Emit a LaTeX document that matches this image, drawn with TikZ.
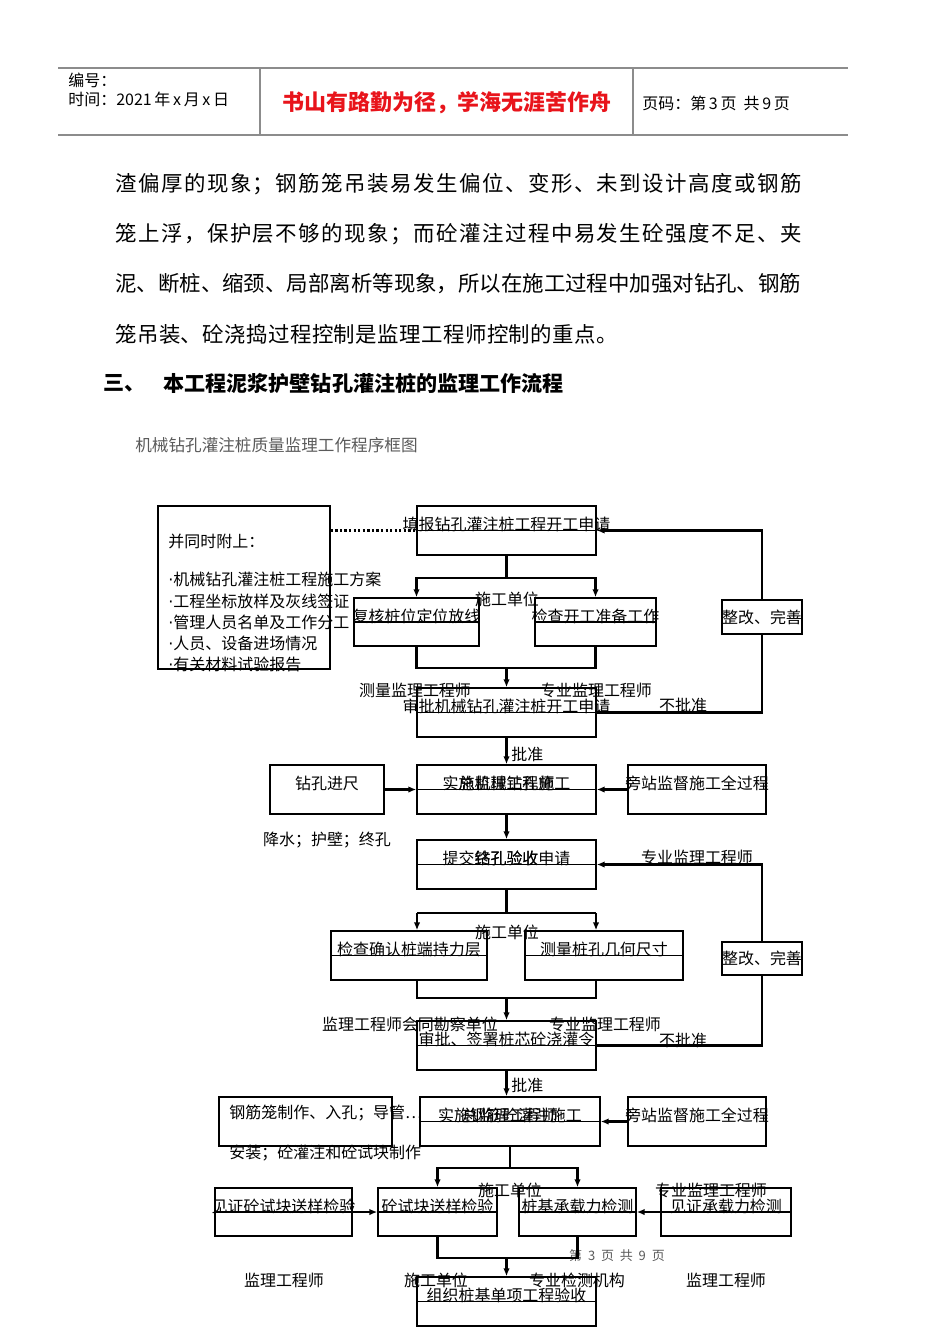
\documentclass[tikz,border=0pt]{standalone}
\usepackage{fontspec}
\setmainfont{Noto Sans CJK SC}
\newfontfamily\dotfont{DejaVu Sans}
\usetikzlibrary{arrows.meta, calc}
\definecolor{TitleRed}{HTML}{E8141B}
\definecolor{Rule70}{HTML}{8C8C8C}
\definecolor{Gray60}{HTML}{5A5A5A}
\newcommand{\boxfont}{\fontsize{9.1}{12.1}\selectfont}
\newcommand{\bodyfont}{\fontsize{12.2}{14}\selectfont}
\newcommand{\itemdot}{{\dotfont ·}}

\begin{document}
\begin{tikzpicture}[x=0.02cm, y=-0.02cm,
    fbox/.style={draw, line width=0.8pt, inner sep=0pt, minimum height=0.98cm,
                 path picture={\draw[line width=0.8pt] (path picture bounding box.west) -- (path picture bounding box.east);}},
    sbox/.style={draw, line width=0.8pt, inner sep=0pt, minimum height=0.98cm},
    btxt/.style={anchor=base, inner sep=0pt, font=\boxfont},
    lbl/.style={inner sep=0pt, font=\boxfont},
    arr/.style={-{Latex[length=1.6mm, width=1.3mm]}, line width=1.3pt},
    lnk/.style={line width=1.3pt}
  ]
  \useasboundingbox (0,0) rectangle (950,1344);

  % page header
  \draw[Rule70, line width=0.6pt] (58,68) -- (848,68);
  \draw[Rule70, line width=1.5pt] (58,135) -- (848,135);
  \draw[Rule70, line width=0.6pt] (260,68) -- (260,135) (633,68) -- (633,135);
  \node[lbl, anchor=west] (hno) at (68,80) {编号：};
  \node[lbl, anchor=west] (hdate) at (68,99) {时间：2021\,年\,x\,月\,x\,日};
  \node[inner sep=0pt, font=\fontsize{12.5}{14}\selectfont\bfseries, text=TitleRed] (htitle) at (447,103) {书山有路勤为径，学海无涯苦作舟};
  \node[lbl, anchor=west] (hpage) at (642,103) {页码：第\,3\,页\ \ 共\,9\,页};

  % body text
  \node[inner sep=0pt, anchor=west, font=\bodyfont] (p1) at (115,184) {\addfontfeatures{LetterSpace=7}渣偏厚的现象；钢筋笼吊装易发生偏位、变形、未到设计高度或钢筋};
  \node[inner sep=0pt, anchor=west, font=\bodyfont] (p2) at (115,234) {\addfontfeatures{LetterSpace=7}笼上浮，保护层不够的现象；而砼灌注过程中易发生砼强度不足、夹};
  \node[inner sep=0pt, anchor=west, font=\bodyfont] (p3) at (115,284) {泥、断桩、缩颈、局部离析等现象，所以在施工过程中加强对钻孔、钢筋};
  \node[inner sep=0pt, anchor=west, font=\bodyfont] (p4) at (115,334) {\addfontfeatures{LetterSpace=2}笼吊装、砼浇捣过程控制是监理工程师控制的重点。};
  \node[inner sep=0pt, anchor=west, font=\fontsize{12}{14}\selectfont\bfseries] (sec) at (103,383) {三、};
  \node[inner sep=0pt, anchor=west, font=\fontsize{12}{14}\selectfont\bfseries] (sect) at (163,383) {本工程泥浆护壁钻孔灌注桩的监理工作流程};
  \node[inner sep=0pt, anchor=west, font=\fontsize{9.45}{11}\selectfont, text=Gray60] (cap) at (135,445) {机械钻孔灌注桩质量监理工作程序框图};

  % boxes
  \node[sbox, minimum width=3.44cm, minimum height=3.26cm] (a) at (244,587.5) {};
  \node[lbl, anchor=west] (at) at (168,541) {并同时附上：};
  \node[lbl, anchor=north west, align=left] (al) at (168,572) {{\itemdot}机械钻孔灌注桩工程施工方案\\{\itemdot}工程坐标放样及灰线签证\\{\itemdot}管理人员名单及工作分工\\{\itemdot}人员、设备进场情况\\{\itemdot}有关材料试验报告};

  \node[fbox, minimum width=3.58cm] (b1) at (506.5,530.5) {};
  \node[btxt] (b1t) at (b1.center) {填报钻孔灌注桩工程开工申请};
  \node[fbox, minimum width=2.5cm, minimum height=0.96cm] (c1) at (416.5,622) {};
  \node[btxt] (c1t) at (c1.center) {复核桩位定位放线};
  \node[fbox, minimum width=2.42cm, minimum height=0.96cm] (c2) at (595.5,622) {};
  \node[btxt] (c2t) at (c2.center) {检查开工准备工作};
  \node[sbox, minimum width=1.6cm, minimum height=0.68cm] (z1) at (762,617) {};
  \node[lbl] (z1t) at (z1.center) {整改、完善};
  \node[fbox, minimum width=3.58cm] (b2) at (506.5,712.5) {};
  \node[btxt] (b2t) at (b2.center) {审批机械钻孔灌注桩开工申请};

  \node[fbox, minimum width=3.58cm] (b3) at (506.5,789.5) {};
  \node[btxt] (b3t) at (b3.center) {实施机械钻孔施工};
  \node[btxt] (b3u) at (b3.center) {总监理工程师};
  \node[sbox, minimum width=2.28cm] (d) at (327,789.5) {};
  \node[btxt] (dt) at (d.center) {钻孔进尺};
  \node[sbox, minimum width=2.76cm] (e) at (697,789.5) {};
  \node[btxt] (et) at (e.center) {旁站监督施工全过程};

  \node[fbox, minimum width=3.58cm] (b4) at (506.5,864.5) {};
  \node[btxt] (b4t) at (b4.center) {提交钻孔验收申请};
  \node[btxt] (b4u) at (b4.center) {终孔验收};
  \node[fbox, minimum width=3.12cm] (f1) at (409,955.5) {};
  \node[btxt] (f1t) at (f1.center) {检查确认桩端持力层};
  \node[fbox, minimum width=3.16cm] (f2) at (604,955.5) {};
  \node[btxt] (f2t) at (f2.center) {测量桩孔几何尺寸};
  \node[sbox, minimum width=1.6cm, minimum height=0.66cm] (z2) at (762,958.5) {};
  \node[lbl] (z2t) at (z2.center) {整改、完善};
  \node[fbox, minimum width=3.58cm] (b5) at (506.5,1045.5) {};
  \node[btxt] (b5t) at (b5.center) {审批、签署桩芯砼浇灌令};

  \node[fbox, minimum width=3.6cm] (b6) at (510,1121.5) {};
  \node[btxt] (b6t) at (b6.center) {实施钢筋砼灌注施工};
  \node[btxt] (b6u) at (b6.center) {总监理工程师};
  \node[sbox, minimum width=3.46cm] (g) at (305.5,1121.5) {};
  \node[lbl, anchor=west] (gt) at (229,1113) {钢筋笼制作、入孔；导管…};
  \node[sbox, minimum width=2.76cm] (h) at (697,1121.5) {};
  \node[btxt] (ht) at (h.center) {旁站监督施工全过程};

  \node[fbox, minimum width=2.74cm, minimum height=0.96cm] (k1) at (283.5,1212) {};
  \node[btxt] (k1t) at (k1.center) {见证砼试块送样检验};
  \node[fbox, minimum width=2.38cm, minimum height=0.96cm] (k2) at (437.5,1212) {};
  \node[btxt] (k2t) at (k2.center) {砼试块送样检验};
  \node[fbox, minimum width=2.34cm, minimum height=0.96cm] (k3) at (577.5,1212) {};
  \node[btxt] (k3t) at (k3.center) {桩基承载力检测};
  \node[fbox, minimum width=2.6cm, minimum height=0.96cm] (k4) at (726,1212) {};
  \node[btxt] (k4t) at (k4.center) {见证承载力检测};
  \node[fbox, minimum width=3.58cm] (b7) at (506.5,1301.5) {};
  \node[btxt] (b7t) at (b7.center) {组织桩基单项工程验收};

  % labels
  \node[lbl] (l1) at (507,599) {施工单位};
  \node[lbl] (l2) at (415,690) {测量监理工程师};
  \node[lbl] (l3) at (596,690) {专业监理工程师};
  \node[lbl] (l4) at (683,705) {不批准};
  \node[lbl, anchor=west] (l5) at (511,754) {批准};
  \node[lbl] (l6) at (327,840) {降水；护壁；终孔};
  \node[lbl] (l7) at (697,857) {专业监理工程师};
  \node[lbl] (l8) at (507,932) {施工单位};
  \node[lbl] (l9) at (410,1024) {监理工程师会同勘察单位};
  \node[lbl] (l10) at (605,1024) {专业监理工程师};
  \node[lbl] (l11) at (683,1040) {不批准};
  \node[lbl, anchor=west] (l12) at (511,1085) {批准};
  \node[lbl, anchor=west] (l13) at (229,1153) {安装；砼灌注和砼试块制作};
  \node[lbl] (l14) at (510,1190) {施工单位};
  \node[lbl] (l15) at (711,1190) {专业监理工程师};
  \node[lbl] (l16) at (284,1280) {监理工程师};
  \node[lbl] (l17) at (436,1280) {施工单位};
  \node[lbl] (l18) at (577,1280) {专业检测机构};
  \node[lbl] (l19) at (726,1280) {监理工程师};
  \node[inner sep=0pt, font=\fontsize{7.4}{9}\selectfont, text=Gray60] (foot) at (617,1256) {第\ \ 3\ \ 页\ \ 共\ \ 9\ \ 页};

  % connectors
  \draw[dash pattern=on 1.3pt off 1.3pt, line width=1.5pt] (a.east |- b1.west) -- (b1.west);
  \coordinate (s1) at (506.5,578);
  \draw[lnk] (b1.south) -- (s1);
  \draw[arr] (s1) -| (c1.north);
  \draw[arr] (s1) -| (c2.north);
  \coordinate (m1) at (506.5,668);
  \draw[lnk] (c1.south) |- (m1) -| (c2.south);
  \draw[arr] (m1) -- (b2.north);
  \draw[lnk] (b2.east) -| (z1.south);
  \draw[arr] (z1.north) |- (b1.east);
  \draw[arr] (b2.south) -- (b3.north);
  \draw[arr] (d.east) -- (b3.west);
  \draw[arr] (e.west) -- (b3.east);
  \draw[arr] (b3.south) -- (b4.north);

  \coordinate (s2) at (506.5,913);
  \coordinate (s2l) at (417,913);
  \coordinate (s2r) at (596,913);
  \draw[lnk] (b4.south) -- (s2);
  \draw[lnk] (s2l) -- (s2r);
  \draw[arr] (s2l) -- (s2l |- f1.north);
  \draw[arr] (s2r) -- (s2r |- f2.north);
  \coordinate (m2) at (506.5,998);
  \coordinate (m2l) at (417,998);
  \coordinate (m2r) at (596,998);
  \draw[lnk] (m2l |- f1.south) -- (m2l) -- (m2r) -- (m2r |- f2.south);
  \draw[arr] (m2) -- (b5.north);
  \draw[lnk] (b5.east) -| (z2.south);
  \draw[arr] (z2.north) |- (b4.east);
  \draw[arr] (b5.south) -- (b5.south |- b6.north);
  \draw[arr] (h.west) -- (b6.east);

  \coordinate (s3) at (510,1168);
  \draw[lnk] (b6.south) -- (s3);
  \draw[arr] (s3) -| (k2.north);
  \draw[arr] (s3) -| (k3.north);
  \draw[arr] (k1.east) -- (k2.west);
  \draw[arr] (k4.west) -- (k3.east);
  \coordinate (m3) at (506.5,1258);
  \draw[lnk] (k2.south) |- (m3) -| (k3.south);
  \draw[arr] (m3) -- (b7.north);
\end{tikzpicture}
\end{document}
